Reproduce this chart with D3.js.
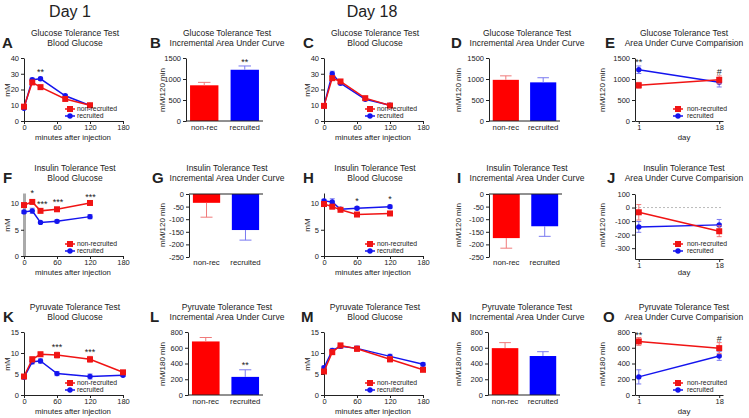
<!DOCTYPE html>
<html>
<head>
<meta charset="utf-8">
<script src="https://cdn.jsdelivr.net/npm/d3@7/dist/d3.min.js"></script>
<style>
body { margin: 0; background: #fff; }
text { font-family: "Liberation Sans", Arial, sans-serif; fill: #222; }
</style>
</head>
<body>
<svg id="fig" width="749" height="418"></svg>
<script>
// ---- data ----
const seriesNames = ['non-recruited', 'recruited'];
const catLabels = ['non-rec', 'recruited'];
const minuteTicks = [0, 60, 120, 180];
const dayTicks = [1, 18];

// glucose tolerance test (mM)
const gttTimes = [0, 15, 30, 75, 120];
const gttD1Non = [9.1, 24.5, 21.5, 14.0, 10.0];
const gttD1NonErr = [0.8, 1.2, 1.0, 0.8, 0.6];
const gttD1Rec = [8.1, 26.2, 26.8, 16.0, 9.8];
const gttD1RecErr = [0.7, 1.0, 1.0, 0.9, 0.6];
const gttD18Non = [9.6, 27.2, 25.1, 14.5, 9.8];
const gttD18NonErr = [0.8, 1.2, 1.0, 0.9, 0.6];
const gttD18Rec = [9.5, 30.0, 24.0, 13.8, 10.0];
const gttD18RecErr = [0.7, 1.6, 1.0, 0.8, 0.6];

// insulin tolerance test (mM)
const ittTimes = [0, 15, 30, 60, 120];
const ittD1Non = [9.7, 10.3, 8.6, 8.9, 10.1];
const ittD1NonErr = [0.3, 0.3, 0.3, 0.3, 0.4];
const ittD1Rec = [8.4, 8.6, 6.4, 6.6, 7.5];
const ittD1RecErr = [0.3, 0.5, 0.2, 0.3, 0.4];
const ittD18Non = [9.9, 9.4, 8.8, 7.9, 8.1];
const ittD18NonErr = [0.3, 0.4, 0.3, 0.3, 0.3];
const ittD18Rec = [10.5, 10.3, 8.9, 9.1, 9.4];
const ittD18RecErr = [0.3, 0.6, 0.3, 0.3, 0.3];

// pyruvate tolerance test (mM)
const pttTimes = [0, 15, 30, 60, 120, 180];
const pttD1Non = [4.4, 8.5, 9.7, 9.5, 8.5, 5.4];
const pttD1NonErr = [0.3, 0.6, 0.5, 0.7, 0.7, 0.4];
const pttD1Rec = [4.2, 7.9, 8.1, 5.1, 4.4, 4.7];
const pttD1RecErr = [0.3, 0.5, 0.5, 0.5, 0.6, 0.3];
const pttD18Non = [5.6, 10.2, 11.8, 11.0, 8.5, 6.0];
const pttD18NonErr = [0.4, 0.5, 0.5, 0.6, 0.6, 0.4];
const pttD18Rec = [6.5, 10.6, 11.6, 11.1, 9.2, 7.3];
const pttD18RecErr = [0.4, 0.5, 0.5, 0.6, 0.5, 0.4];

// incremental areas under curve [non-rec, recruited]
const gttAucD1 = [850, 1220];
const gttAucD1Err = [70, 90];
const gttAucD18 = [980, 920];
const gttAucD18Err = [95, 110];
const ittAucD1 = [-35, -143];
const ittAucD1Err = [57, 40];
const ittAucD18 = [-175, -128];
const ittAucD18Err = [40, 40];
const pttAucD1 = [680, 230];
const pttAucD1Err = [50, 90];
const pttAucD18 = [595, 495];
const pttAucD18Err = [70, 55];

const RED = '#f01414', BLUE = '#1414ee';
const RED_E = '#f07a7a', BLUE_E = '#7a7af0';
const BAR_RED = '#ff0000', BAR_BLUE = '#0000ff';
const plain = d => String(d);

const svg = d3.select('#fig');
const rows = [0, 135, 274];

svg.append('text').attr('x', 70).attr('y', 17).attr('text-anchor', 'middle')
    .attr('font-size', 16).text('Day 1');
svg.append('text').attr('x', 372).attr('y', 17).attr('text-anchor', 'middle')
    .attr('font-size', 16).text('Day 18');

function header(g, letter, lx, titles, tx) {
    g.append('text').attr('x', lx).attr('y', 48).attr('font-size', 15)
        .attr('font-weight', 'bold').attr('fill', '#111').text(letter);
    titles.forEach((t, i) => {
        g.append('text').attr('x', tx).attr('y', 36 + i * 10)
            .attr('text-anchor', 'middle').attr('font-size', 8.5).text(t);
    });
}

function yLabel(g, x, y, t) {
    g.append('text').attr('transform', `translate(${x},${y}) rotate(-90)`)
        .attr('text-anchor', 'middle').attr('font-size', 8).text(t);
}

function styleAxis(a) {
    a.attr('font-size', 7.5).attr('font-family', '"Liberation Sans", Arial, sans-serif');
    a.selectAll('text').attr('fill', '#333');
    a.selectAll('path, line').attr('stroke', '#222');
}

function errBars(g, pts, color, capW) {
    pts.forEach(p => {
        g.append('line').attr('x1', p.x).attr('x2', p.x).attr('y1', p.lo).attr('y2', p.hi)
            .attr('stroke', color).attr('stroke-width', 1);
        [p.lo, p.hi].forEach(yy => g.append('line')
            .attr('x1', p.x - capW).attr('x2', p.x + capW).attr('y1', yy).attr('y2', yy)
            .attr('stroke', color).attr('stroke-width', 1));
    });
}

function marker(g, x, y, idx) {
    if (idx === 0) {
        g.append('rect').attr('x', x - 3).attr('y', y - 3).attr('width', 6).attr('height', 6)
            .attr('fill', RED);
    } else {
        g.append('circle').attr('cx', x).attr('cy', y).attr('r', 2.7).attr('fill', BLUE);
    }
}

function series(g, xs, vals, errs, x, y, idx) {
    const col = idx === 0 ? RED : BLUE;
    const ecol = idx === 0 ? RED_E : BLUE_E;
    errBars(g, xs.map((t, i) => ({x: x(t), lo: y(vals[i] - errs[i]), hi: y(vals[i] + errs[i])})), ecol, 2.5);
    g.append('path').datum(xs.map((t, i) => [x(t), y(vals[i])]))
        .attr('d', d3.line()).attr('fill', 'none').attr('stroke', col).attr('stroke-width', 1.5);
    xs.forEach((t, i) => marker(g, x(t), y(vals[i]), idx));
}

function legend(g, mx, tx) {
    seriesNames.forEach((s, i) => {
        const yy = 109 + i * 7;
        g.append('line').attr('x1', mx - 5).attr('x2', mx + 5).attr('y1', yy).attr('y2', yy)
            .attr('stroke', i === 0 ? RED : BLUE).attr('stroke-width', 1.5);
        marker(g, mx, yy, i);
        g.append('text').attr('x', tx).attr('y', yy + 2.4).attr('font-size', 6.8).text(s);
    });
}

function stars(g, list, x, y) {
    list.forEach(s => g.append('text').attr('x', x(s.at)).attr('y', y(s.v) + 4)
        .attr('text-anchor', 'middle').attr('font-size', 9).text(s.t));
}

function linePanel(x0, y0, cfg) {
    const g = svg.append('g').attr('transform', `translate(${x0},${y0})`);
    header(g, cfg.letter, cfg.lx, cfg.titles, 75);
    const x = d3.scaleLinear().domain([0, 180]).range([24, 123]);
    const y = d3.scaleLinear().domain([0, cfg.ymax]).range([121, 58]);
    const ya = g.append('g').attr('transform', 'translate(24,0)')
        .call(d3.axisLeft(y).tickValues(cfg.yticks).tickFormat(plain)
            .tickSize(3).tickSizeOuter(0).tickPadding(2));
    styleAxis(ya);
    if (cfg.greyAxis) ya.select('.domain').attr('stroke', '#aaa').attr('stroke-width', 3);
    const xa = g.append('g').attr('transform', 'translate(0,121)')
        .call(d3.axisBottom(x).tickValues(minuteTicks).tickFormat(plain)
            .tickSize(3).tickSizeOuter(0).tickPadding(1));
    styleAxis(xa);
    yLabel(g, 10, 90, 'mM');
    g.append('text').attr('x', 73).attr('y', 140).attr('text-anchor', 'middle')
        .attr('font-size', 7.8).text('minutes after injection');
    series(g, cfg.times, cfg.rec, cfg.recErr, x, y, 1);
    series(g, cfg.times, cfg.non, cfg.nonErr, x, y, 0);
    legend(g, 70, 77);
    stars(g, cfg.stars || [], x, y);
}

function barPanel(x0, y0, cfg) {
    const g = svg.append('g').attr('transform', `translate(${x0},${y0})`);
    header(g, cfg.letter, cfg.lx, cfg.titles, 77);
    const neg = cfg.ydomain[1] <= 0;
    const x = d3.scaleBand().domain(catLabels).range([cfg.left, cfg.right])
        .paddingInner(0.3).paddingOuter(0.1);
    const y = d3.scaleLinear().domain(cfg.ydomain).range(neg ? [122, 59] : [121, 58]);
    g.selectAll('rect.bar').data(cfg.vals).enter().append('rect').attr('class', 'bar')
        .attr('x', (d, i) => x(catLabels[i]))
        .attr('width', x.bandwidth())
        .attr('y', d => Math.min(y(0), y(d)))
        .attr('height', d => Math.abs(y(d) - y(0)))
        .attr('fill', (d, i) => i === 0 ? BAR_RED : BAR_BLUE);
    cfg.vals.forEach((v, i) => {
        const cx = x(catLabels[i]) + x.bandwidth() / 2;
        const end = neg ? v - cfg.errs[i] : v + cfg.errs[i];
        const col = i === 0 ? RED_E : BLUE_E;
        g.append('line').attr('x1', cx).attr('x2', cx).attr('y1', y(v)).attr('y2', y(end))
            .attr('stroke', col).attr('stroke-width', 1);
        g.append('line').attr('x1', cx - x.bandwidth() * 0.22).attr('x2', cx + x.bandwidth() * 0.22)
            .attr('y1', y(end)).attr('y2', y(end)).attr('stroke', col).attr('stroke-width', 1);
    });
    const ya = g.append('g').attr('transform', `translate(${cfg.left},0)`)
        .call(d3.axisLeft(y).tickValues(cfg.yticks).tickFormat(plain)
            .tickSize(3).tickSizeOuter(0).tickPadding(2));
    styleAxis(ya);
    g.append('line').attr('x1', cfg.left).attr('x2', cfg.right).attr('y1', y(0)).attr('y2', y(0))
        .attr('stroke', '#222').attr('stroke-width', 1);
    catLabels.forEach(c => g.append('text').attr('x', x(c) + x.bandwidth() / 2).attr('y', 130)
        .attr('text-anchor', 'middle').attr('font-size', 7.8).text(c));
    yLabel(g, cfg.ylx, 90, cfg.ylabel);
    (cfg.stars || []).forEach(s => g.append('text')
        .attr('x', x(catLabels[s.at]) + x.bandwidth() / 2).attr('y', y(s.v) + 4)
        .attr('text-anchor', 'middle').attr('font-size', 9).text(s.t));
}

function comparePanel(x0, y0, cfg) {
    const g = svg.append('g').attr('transform', `translate(${x0},${y0})`);
    header(g, cfg.letter, cfg.lx, cfg.titles, 94);
    const x = d3.scaleLinear().domain([0.2, 18.8]).range([45, 133]);
    const y = d3.scaleLinear().domain(cfg.ydomain).range(cfg.yrange || [121, 58]);
    if (cfg.zeroLine) {
        g.append('line').attr('x1', 45).attr('x2', 133).attr('y1', y(0)).attr('y2', y(0))
            .attr('stroke', '#bbb').attr('stroke-width', 1).attr('stroke-dasharray', '2,2');
    }
    const ya = g.append('g').attr('transform', 'translate(45,0)')
        .call(d3.axisLeft(y).tickValues(cfg.yticks).tickFormat(plain)
            .tickSize(3).tickSizeOuter(0).tickPadding(2));
    styleAxis(ya);
    const xa = g.append('g').attr('transform', `translate(0,${y.range()[0]})`)
        .call(d3.axisBottom(x).tickValues(dayTicks).tickFormat(plain)
            .tickSize(3).tickSizeOuter(0).tickPadding(1));
    styleAxis(xa);
    yLabel(g, 15, 90, cfg.ylabel);
    g.append('text').attr('x', 94).attr('y', 140).attr('text-anchor', 'middle')
        .attr('font-size', 7.8).text('day');
    series(g, dayTicks, [cfg.d1[1], cfg.d18[1]], [cfg.d1Err[1], cfg.d18Err[1]], x, y, 1);
    series(g, dayTicks, [cfg.d1[0], cfg.d18[0]], [cfg.d1Err[0], cfg.d18Err[0]], x, y, 0);
    legend(g, 88, 97);
    stars(g, cfg.stars || [], x, y);
}

// ---- row 1: glucose tolerance ----
linePanel(0, rows[0], {letter: 'A', lx: 2, titles: ['Glucose Tolerance Test', 'Blood Glucose'],
    ymax: 40, yticks: [0, 10, 20, 30, 40], times: gttTimes,
    non: gttD1Non, nonErr: gttD1NonErr, rec: gttD1Rec, recErr: gttD1RecErr,
    stars: [{at: 30, v: 32, t: '**'}]});
barPanel(150, rows[0], {letter: 'B', lx: 0, titles: ['Glucose Tolerance Test', 'Incremental Area Under Curve'],
    left: 36, right: 113, ydomain: [0, 1500], yticks: [0, 500, 1000, 1500], ylx: 15, ylabel: 'mM/120 min',
    vals: gttAucD1, errs: gttAucD1Err, stars: [{at: 1, v: 1430, t: '**'}]});
linePanel(300, rows[0], {letter: 'C', lx: 3, titles: ['Glucose Tolerance Test', 'Blood Glucose'],
    ymax: 40, yticks: [0, 10, 20, 30, 40], times: gttTimes,
    non: gttD18Non, nonErr: gttD18NonErr, rec: gttD18Rec, recErr: gttD18RecErr});
barPanel(450, rows[0], {letter: 'D', lx: 1, titles: ['Glucose Tolerance Test', 'Incremental Area Under Curve'],
    left: 39, right: 110, ydomain: [0, 1500], yticks: [0, 500, 1000, 1500], ylx: 11, ylabel: 'mM/120 min',
    vals: gttAucD18, errs: gttAucD18Err});
comparePanel(590, rows[0], {letter: 'E', lx: 15, titles: ['Glucose Tolerance Test', 'Area Under Curve Comparision'],
    ydomain: [0, 1500], yticks: [0, 500, 1000, 1500], ylabel: 'mM/120 min',
    d1: gttAucD1, d1Err: gttAucD1Err, d18: gttAucD18, d18Err: gttAucD18Err,
    stars: [{at: 1, v: 1430, t: '**'}, {at: 18, v: 1180, t: '#'}]});

// ---- row 2: insulin tolerance ----
linePanel(0, rows[1], {letter: 'F', lx: 3, titles: ['Insulin Tolerance Test', 'Blood Glucose'],
    ymax: 12, yticks: [0, 5, 10], times: ittTimes, greyAxis: true,
    non: ittD1Non, nonErr: ittD1NonErr, rec: ittD1Rec, recErr: ittD1RecErr,
    stars: [{at: 15, v: 12.2, t: '*'}, {at: 33, v: 10.1, t: '***'},
            {at: 62, v: 10.5, t: '***'}, {at: 121, v: 11.4, t: '***'}]});
barPanel(150, rows[1], {letter: 'G', lx: 2, titles: ['Insulin Tolerance Test', 'Incremental Area Under Curve'],
    left: 39, right: 113, ydomain: [-250, 0], yticks: [0, -50, -100, -150, -200, -250], ylx: 15, ylabel: 'mM/120 min',
    vals: ittAucD1, errs: ittAucD1Err});
linePanel(300, rows[1], {letter: 'H', lx: 3, titles: ['Insulin Tolerance Test', 'Blood Glucose'],
    ymax: 12, yticks: [0, 5, 10], times: ittTimes,
    non: ittD18Non, nonErr: ittD18NonErr, rec: ittD18Rec, recErr: ittD18RecErr,
    stars: [{at: 60, v: 10.7, t: '*'}, {at: 120, v: 11.1, t: '*'}]});
barPanel(450, rows[1], {letter: 'I', lx: 7, titles: ['Insulin Tolerance Test', 'Incremental Area Under Curve'],
    left: 39, right: 112, ydomain: [-250, 0], yticks: [0, -50, -100, -150, -200, -250], ylx: 11, ylabel: 'mM/120 min',
    vals: ittAucD18, errs: ittAucD18Err});
comparePanel(590, rows[1], {letter: 'J', lx: 17, titles: ['Insulin Tolerance Test', 'Area Under Curve Comparision'],
    ydomain: [-380, 100], yrange: [124, 59], yticks: [100, 0, -100, -200, -300], ylabel: 'mM/120 min', zeroLine: true,
    d1: ittAucD1, d1Err: ittAucD1Err, d18: ittAucD18, d18Err: ittAucD18Err});

// ---- row 3: pyruvate tolerance ----
linePanel(0, rows[2], {letter: 'K', lx: 3, titles: ['Pyruvate Tolerance Test', 'Blood Glucose'],
    ymax: 15, yticks: [0, 5, 10, 15], times: pttTimes,
    non: pttD1Non, nonErr: pttD1NonErr, rec: pttD1Rec, recErr: pttD1RecErr,
    stars: [{at: 60, v: 11.7, t: '***'}, {at: 120, v: 10.5, t: '***'}]});
barPanel(150, rows[2], {letter: 'L', lx: 0, titles: ['Pyruvate Tolerance Test', 'Incremental Area Under Curve'],
    left: 38, right: 113, ydomain: [0, 800], yticks: [0, 200, 400, 600, 800], ylx: 15, ylabel: 'mM/180 min',
    vals: pttAucD1, errs: pttAucD1Err, stars: [{at: 1, v: 394, t: '**'}]});
linePanel(300, rows[2], {letter: 'M', lx: 1, titles: ['Pyruvate Tolerance Test', 'Blood Glucose'],
    ymax: 15, yticks: [0, 5, 10, 15], times: pttTimes,
    non: pttD18Non, nonErr: pttD18NonErr, rec: pttD18Rec, recErr: pttD18RecErr});
barPanel(450, rows[2], {letter: 'N', lx: 1, titles: ['Pyruvate Tolerance Test', 'Incremental Area Under Curve'],
    left: 38, right: 110, ydomain: [0, 800], yticks: [0, 200, 400, 600, 800], ylx: 11, ylabel: 'mM/180 min',
    vals: pttAucD18, errs: pttAucD18Err});
comparePanel(590, rows[2], {letter: 'O', lx: 13, titles: ['Pyruvate Tolerance Test', 'Area Under Curve Comparision'],
    ydomain: [0, 800], yticks: [0, 200, 400, 600, 800], ylabel: 'mM/180 min',
    d1: pttAucD1, d1Err: pttAucD1Err, d18: pttAucD18, d18Err: pttAucD18Err,
    stars: [{at: 1, v: 780, t: '**'}, {at: 18, v: 720, t: '#'}]});
</script>
</body>
</html>
